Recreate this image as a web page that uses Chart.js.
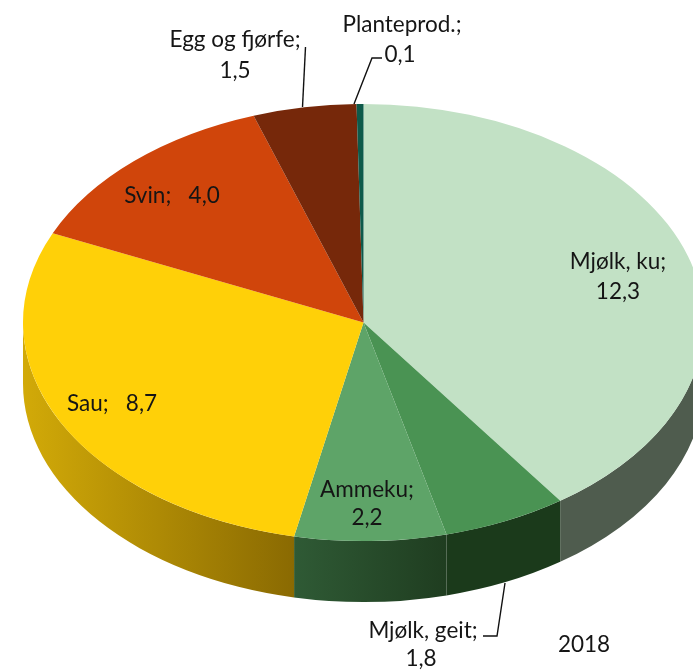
<!DOCTYPE html>
<html>
<head>
<meta charset="utf-8">
<style>html,body{margin:0;padding:0;background:#fff;overflow:hidden}canvas{display:block}</style>
<script src="https://cdn.jsdelivr.net/npm/chart.js@4"></script>
</head>
<body>
<canvas id="c" width="693" height="671"></canvas>
<script>
const categories = ["Mjølk, ku", "Mjølk, geit", "Ammeku", "Sau", "Svin", "Egg og fjørfe", "Planteprod."];
const values = [12.3, 1.8, 2.2, 8.7, 4.0, 1.5, 0.1];
const topColors = ["#c2e1c5", "#4a9353", "#5ea468", "#ffd008", "#d0450b", "#76280a", "#0d5a4a"];
const wallLeft = ["#4f5c4e", "#1b3a1b", "#2f5a35", "#d2aa08", "#8a3008", "#4e1a06", "#083a30"];
const wallRight = ["#4f5c4e", "#1b3a1b", "#1f3d20", "#8a6a02", "#8a3008", "#4e1a06", "#083a30"];
const yearLabel = "2018";

const PIE = {cx: 363.5, cy: 322.5, rx: 340.5, ry: 218.5, depth: 61};
const LABEL_FONT = '22.5px Lato, "Open Sans", sans-serif';
const labelRuns = [
  {text: "Mjølk, ku;", x: 618, y: 262}, {text: "12,3", x: 618, y: 292},
  {text: "Ammeku;", x: 367, y: 490}, {text: "2,2", x: 367, y: 518},
  {text: "Mjølk, geit;", x: 423, y: 631}, {text: "1,8", x: 421, y: 659},
  {text: "Sau;   8,7", x: 112, y: 404},
  {text: "Svin;   4,0", x: 172, y: 196},
  {text: "Egg og fjørfe;", x: 235, y: 40}, {text: "1,5", x: 235, y: 71},
  {text: "Planteprod.;", x: 402, y: 25}, {text: "0,1", x: 400, y: 55},
  {text: yearLabel, x: 584, y: 645}
];
const leaders = [
  [[305.5, 47], [302.5, 107]],
  [[382, 58], [372, 58], [354, 104]],
  [[505, 583], [497, 636], [483, 636]]
];

const pie3d = {
  id: 'pie3d',
  beforeDatasetsDraw(chart) {
    const ctx = chart.ctx, arcs = chart.getDatasetMeta(0).data;
    arcs.forEach((arc, i) => {
      const a0 = Math.max(arc.startAngle, 0), a1 = Math.min(arc.endAngle, Math.PI);
      if (a1 <= a0) return;
      const x0 = PIE.cx + PIE.rx * Math.cos(a1), x1 = PIE.cx + PIE.rx * Math.cos(a0);
      const g = ctx.createLinearGradient(x0, 0, x1, 0);
      g.addColorStop(0, wallLeft[i]);
      g.addColorStop(1, wallRight[i]);
      ctx.save();
      ctx.fillStyle = g;
      ctx.beginPath();
      ctx.ellipse(PIE.cx, PIE.cy, PIE.rx, PIE.ry, 0, a0, a1, false);
      ctx.ellipse(PIE.cx, PIE.cy + PIE.depth, PIE.rx, PIE.ry, 0, a1, a0, true);
      ctx.closePath();
      ctx.fill();
      ctx.restore();
    });
    const first = arcs[0], r = first.outerRadius;
    ctx.save();
    ctx.translate(PIE.cx, PIE.cy);
    ctx.scale(PIE.rx / r, PIE.ry / r);
    ctx.translate(-first.x, -first.y);
  },
  afterDatasetsDraw(chart) {
    const ctx = chart.ctx;
    ctx.restore();
    ctx.save();
    ctx.strokeStyle = '#111';
    ctx.lineWidth = 1.4;
    leaders.forEach(pts => {
      ctx.beginPath();
      pts.forEach((p, k) => k ? ctx.lineTo(p[0], p[1]) : ctx.moveTo(p[0], p[1]));
      ctx.stroke();
    });
    ctx.fillStyle = '#151515';
    ctx.font = LABEL_FONT;
    ctx.textAlign = 'center';
    ctx.textBaseline = 'middle';
    labelRuns.forEach(l => ctx.fillText(l.text, l.x, l.y));
    ctx.restore();
  }
};

new Chart(document.getElementById('c'), {
  type: 'pie',
  data: {
    labels: categories,
    datasets: [{data: values, backgroundColor: topColors, borderWidth: 0, clip: false}]
  },
  options: {
    responsive: false,
    animation: false,
    layout: {padding: {left: 41, right: 8, top: 0, bottom: 27}},
    plugins: {legend: {display: false}, tooltip: {enabled: false}, title: {display: false}}
  },
  plugins: [pie3d]
});
</script>
</body>
</html>
